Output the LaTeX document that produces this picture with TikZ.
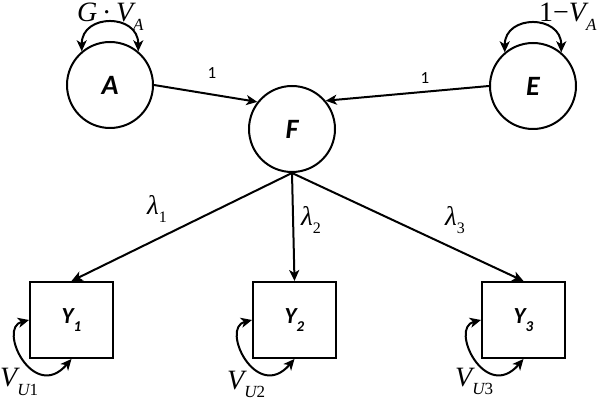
\documentclass[tikz,border=0pt]{standalone}
\usepackage{fontspec}
\setmainfont{Liberation Serif}
\newfontfamily\lblfont{Carlito}
\usetikzlibrary{arrows.meta}
\newcommand{\sbs}[2][14]{\raisebox{-0.32em}{\fontsize{#1}{#1}\selectfont #2}}
\tikzset{
  latent/.style={circle, draw, line width=2pt, minimum size=86pt, inner sep=0pt,
     font=\lblfont\fontsize{28}{28}\selectfont\bfseries\itshape},
  obs/.style={rectangle, draw, line width=2pt, minimum width=83pt, minimum height=76pt, inner sep=0pt,
     font=\lblfont\fontsize{23}{23}\selectfont\bfseries\itshape},
  path/.style={line width=2pt, -{Stealth[length=11pt,width=10pt,inset=3pt]}},
  dpath/.style={line width=2pt, {Stealth[length=11pt,width=10pt,inset=3pt]}-{Stealth[length=11pt,width=10pt,inset=3pt]}},
  one/.style={font=\lblfont\fontsize{17}{17}\selectfont, inner sep=0pt},
  coef/.style={font=\fontsize{27}{27}\selectfont, inner sep=0pt},
  var/.style={font=\fontsize{28}{28}\selectfont, inner sep=0pt, anchor=base west}
}
\begin{document}
\begin{tikzpicture}[x=1pt,y=-1pt]
\useasboundingbox (0,0) rectangle (600,403);
\node[latent] (A) at (110,85) {A};
\node[latent] (E) at (533,86) {E};
\node[latent] (F) at (292,129) {F};
\node[obs] (Y1) at (71.5,320) {Y\sbs[15]{1}};
\node[obs] (Y2) at (294.5,320) {Y\sbs[15]{2}};
\node[obs] (Y3) at (523.5,320) {Y\sbs[15]{3}};

\draw[path] (A.east) -- (F.142);
\draw[path] (E.west) -- (F.40);
\node[one] (l1) at (212,73) {1};
\node[one] (l2) at (425,78) {1};

\draw[path] (F.south) -- (Y1.north);
\draw[path] (F.south) -- (Y2.north);
\draw[path] (F.south) -- (Y3.north);
\node[coef] (la1) at (157,209) {\itshape λ\sbs[16]{\upshape 1}};
\node[coef] (la2) at (311,220) {\itshape λ\sbs[16]{\upshape 2}};
\node[coef] (la3) at (455,220) {\itshape λ\sbs[16]{\upshape 3}};

\draw[dpath] (A.130) .. controls +(0,-38) and +(0,-38) .. (A.50);
\draw[dpath] (E.130) .. controls +(0,-38) and +(0,-38) .. (E.50);
\node[var] (vA) at (77,22) {\itshape G\,\upshape·\,\itshape V\sbs[17]{A}};
\node[var] (vE) at (539,22) {1−\itshape V\sbs[17]{A}};

\draw[dpath] (Y1.south) .. controls +(-38,44) and +(-32,8) .. (Y1.west);
\draw[dpath] (Y2.south) .. controls +(-38,44) and +(-32,8) .. (Y2.west);
\draw[dpath] (Y3.south) .. controls +(-38,44) and +(-32,8) .. (Y3.west);
\node[var] (v1) at (0,387) {\itshape V\sbs[17]{U\upshape 1}};
\node[var] (v2) at (227,389) {\itshape V\sbs[17]{U\upshape 2}};
\node[var] (v3) at (455,386) {\itshape V\sbs[17]{U\upshape 3}};
\end{tikzpicture}
\end{document}
